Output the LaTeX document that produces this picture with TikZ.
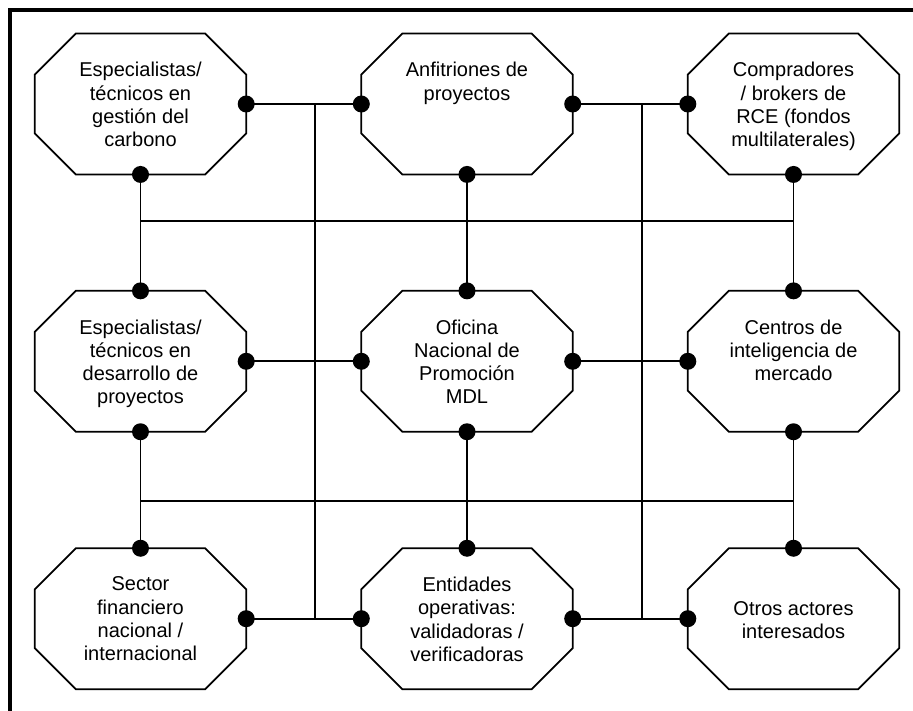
\documentclass[tikz,border=0pt]{standalone}
\usepackage{fontspec}
\setmainfont{Liberation Sans}
\begin{document}
\begin{tikzpicture}[x=1pt,y=-1pt,
  box/.style={minimum width=211pt, minimum height=140.5pt, inner sep=0pt},
  octline/.style={line width=1.8pt, line join=miter},
  wire/.style={line width=1.8pt},
  frame/.style={line width=4pt, line join=miter},
  lbl/.style={font=\fontsize{20}{23.3}\selectfont, align=center, anchor=north, inner sep=0pt}]
\useasboundingbox (0,0) rectangle (913,711);
\draw[frame] (10,711) -- (10,10) -- (913,10);
% octagon frames (invisible rectangles)
\node[box] (a) at (140.5,104) {};
\node[box] (b) at (467,104) {};
\node[box] (c) at (793.5,104) {};
\node[box] (d) at (140.5,361.3) {};
\node[box] (e) at (467,361.3) {};
\node[box] (f) at (793.5,361.3) {};
\node[box] (g) at (140.5,618.7) {};
\node[box] (h) at (467,618.7) {};
\node[box] (i) at (793.5,618.7) {};
\foreach \n in {a,b,c,d,e,f,g,h,i}
  \draw[octline] ([xshift=41pt]\n.north west) -- ([xshift=-41pt]\n.north east)
    -- ([yshift=-41pt]\n.north east) -- ([yshift=41pt]\n.south east)
    -- ([xshift=-41pt]\n.south east) -- ([xshift=41pt]\n.south west)
    -- ([yshift=41pt]\n.south west) -- ([yshift=-41pt]\n.north west) -- cycle;
% labels
\node[lbl] (ta) at ([yshift=-28.5pt]a.north) {Especialistas/\\técnicos en\\gestión del\\carbono};
\node[lbl] (tb) at ([yshift=-28.5pt]b.north) {Anfitriones de\\proyectos};
\node[lbl] (tc) at ([yshift=-28.5pt]c.north) {Compradores\\/ brokers de\\RCE (fondos\\multilaterales)};
\node[lbl] (td) at ([yshift=-28.5pt]d.north) {Especialistas/\\técnicos en\\desarrollo de\\proyectos};
\node[lbl] (te) at ([yshift=-28.5pt]e.north) {Oficina\\Nacional de\\Promoción\\MDL};
\node[lbl] (tf) at ([yshift=-28.5pt]f.north) {Centros de\\inteligencia de\\mercado};
\node[lbl] (tg) at ([yshift=-28.5pt]g.north) {Sector\\financiero\\nacional /\\internacional};
\node[lbl] (th) at ([yshift=-28.5pt]h.north) {Entidades\\operativas:\\validadoras /\\verificadoras};
\node[lbl] (ti) at ([yshift=-53pt]i.north) {Otros actores\\interesados};
% bus coordinates
\coordinate (v1) at (315,0);
\coordinate (v2) at (642.3,0);
\coordinate (h1) at (0,221);
\coordinate (h2) at (0,501);
% horizontal links
\draw[wire] (a.east) -- (b.west);
\draw[wire] (b.east) -- (c.west);
\draw[wire] (d.east) -- (e.west);
\draw[wire] (e.east) -- (f.west);
\draw[wire] (g.east) -- (h.west);
\draw[wire] (h.east) -- (i.west);
% vertical buses
\draw[wire] (v1 |- a.east) -- (v1 |- g.east);
\draw[wire] (v2 |- c.west) -- (v2 |- i.west);
% vertical links
\draw[wire] (a.south) -- (d.north);
\draw[wire] (b.south) -- (e.north);
\draw[wire] (c.south) -- (f.north);
\draw[wire] (d.south) -- (g.north);
\draw[wire] (e.south) -- (h.north);
\draw[wire] (f.south) -- (i.north);
% horizontal buses
\draw[wire] (a.south |- h1) -- (c.south |- h1);
\draw[wire] (d.south |- h2) -- (f.south |- h2);
% dots
\foreach \p in {a.east,a.south,b.west,b.east,b.south,c.west,c.south,
  d.north,d.east,d.south,e.north,e.west,e.east,e.south,f.north,f.west,f.south,
  g.north,g.east,h.north,h.west,h.east,i.north,i.west}
  \fill (\p) circle[radius=8.5pt];
\end{tikzpicture}
\end{document}
